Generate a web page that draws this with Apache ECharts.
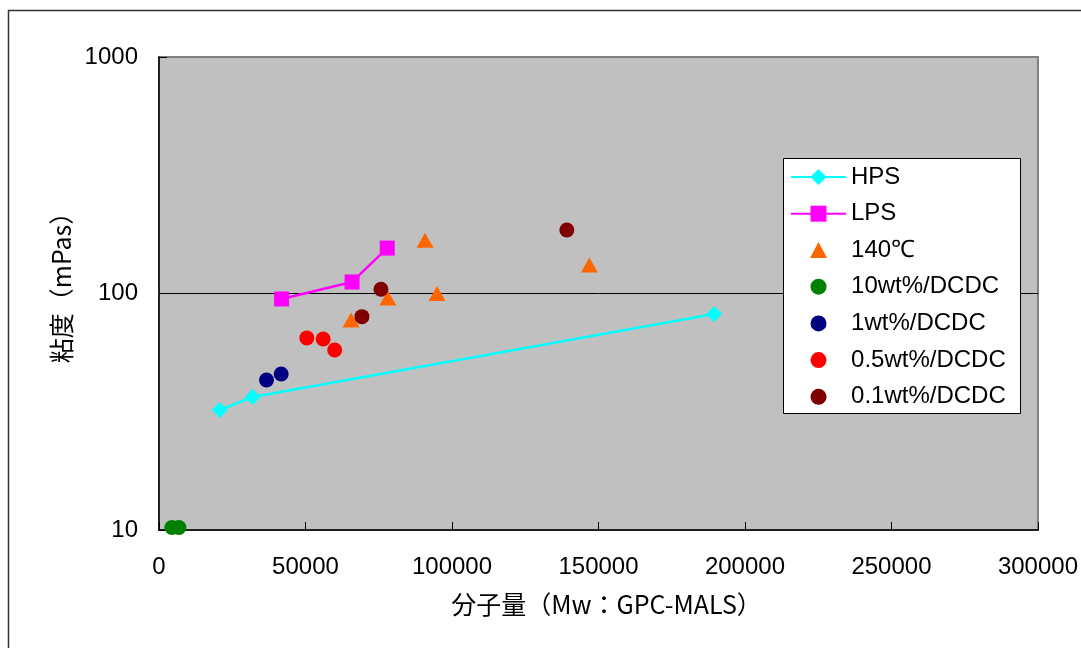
<!DOCTYPE html>
<html>
<head>
<meta charset="utf-8">
<script src="https://cdn.jsdelivr.net/npm/echarts@6/dist/echarts.min.js"></script>
<style>
  html, body { margin: 0; padding: 0; background: #fff; }
  #chart { width: 1081px; height: 648px; }
</style>
</head>
<body>
<div id="chart"></div>
<script>
// Molecular weight (Mw) vs. viscosity (mPas)
const hpsMw   = [20750, 31970, 189450];
const hpsVisc = [32.2, 36.5, 81.9];

const lpsMw   = [41840, 65900, 77900];
const lpsVisc = [94.8, 111.9, 155.6];

const t140Mw   = [65550, 78100, 90800, 94900, 146900];
const t140Visc = [77.3, 95.7, 168, 100, 131.9];

const dcdc10Mw   = [4400, 6800];
const dcdc10Visc = [10.25, 10.25];

const dcdc1Mw   = [36700, 41700];
const dcdc1Visc = [43.1, 45.7];

const dcdc05Mw   = [50450, 56020, 59970];
const dcdc05Visc = [64.9, 64.2, 57.7];

const dcdc01Mw   = [69270, 75750, 139200];
const dcdc01Visc = [79.8, 104.2, 185.5];

const seriesNames = ['HPS', 'LPS', '140℃', '10wt%/DCDC', '1wt%/DCDC', '0.5wt%/DCDC', '0.1wt%/DCDC'];
const xTitle = '分子量（Mw：GPC-MALS）';
const yTitle = '粘度（mPas）';

const pairs = (xs, ys) => xs.map((x, i) => [x, ys[i]]);

const numFont = 'Liberation Sans, Arial, sans-serif';
const cjkFont = 'Noto Sans CJK JP, sans-serif';

const chart = echarts.init(document.getElementById('chart'), null, { renderer: 'canvas' });

function scatter(name, data, symbol, size, color) {
  return {
    name, type: 'scatter', data, symbol, symbolSize: size,
    itemStyle: { color, opacity: 1 },
    emphasis: { disabled: true }
  };
}

const legendText = { fontSize: 24, lineHeight: 24, color: '#000', fontFamily: numFont };
// triangle icon that keeps its proportions in the legend
const triangleIcon = 'path://M8,0L16,15L0,15Z';

chart.setOption({
  animation: false,
  backgroundColor: '#fff',
  graphic: [
    {
      // outer chart frame
      type: 'rect',
      shape: { x: 8.5, y: 10.5, width: 1200, height: 800 },
      style: { fill: 'none', stroke: '#333', lineWidth: 1.5 },
      silent: true, z: -10
    },
    {
      // legend box
      type: 'rect',
      shape: { x: 783.5, y: 158.5, width: 237, height: 255 },
      style: { fill: '#fff', stroke: '#000', lineWidth: 1 },
      silent: true, z: 3
    }
  ],
  grid: {
    left: 159, top: 57, right: 42, bottom: 118,
    show: true, backgroundColor: '#C0C0C0',
    borderColor: '#808080', borderWidth: 2
  },
  legend: [
    {
      // line series entries
      orient: 'vertical', left: 783, top: 165, padding: [0, 0, 0, 7],
      itemWidth: 55, itemHeight: 20, itemGap: 12.7,
      textStyle: legendText,
      data: seriesNames.slice(0, 2),
      selectedMode: false, z: 5
    },
    {
      // marker-only entries
      orient: 'vertical', left: 803, top: 238, padding: [0, 0, 0, 7],
      itemWidth: 55, itemHeight: 16, itemGap: 12.7,
      symbolKeepAspect: true,
      textStyle: legendText,
      data: [
        { name: seriesNames[2], icon: triangleIcon },
        seriesNames[3], seriesNames[4], seriesNames[5], seriesNames[6]
      ],
      selectedMode: false, z: 5
    }
  ],
  xAxis: {
    type: 'value', min: 0, max: 300000, interval: 50000,
    name: xTitle, nameLocation: 'middle', nameGap: 62,
    nameTextStyle: { fontSize: 25, color: '#000', fontFamily: cjkFont, padding: [0, 0, 0, 16] },
    axisLine: { show: true, onZero: false, lineStyle: { color: '#000', width: 1.5 } },
    axisTick: { show: true, inside: true, length: 8, lineStyle: { color: '#000', width: 1 } },
    axisLabel: { fontSize: 24, color: '#000', margin: 25, fontFamily: numFont, formatter: v => String(v) },
    splitLine: { show: false }
  },
  yAxis: {
    type: 'log', logBase: 10, min: 10, max: 1000,
    name: yTitle, nameLocation: 'middle', nameGap: 84, nameRotate: 90,
    nameTextStyle: { fontSize: 25, color: '#000', fontFamily: cjkFont, padding: [0, 0, 0, 24] },
    axisLine: { show: true, onZero: false, lineStyle: { color: '#000', width: 1.5 } },
    axisTick: { show: true, inside: true, length: 8, lineStyle: { color: '#000', width: 1 } },
    minorTick: { show: false },
    axisLabel: { fontSize: 24, color: '#000', margin: 21, fontFamily: numFont, formatter: v => String(Math.round(v)) },
    splitLine: { show: true, lineStyle: { color: ['rgba(0,0,0,0)', '#000', 'rgba(0,0,0,0)'], width: 1 } }
  },
  series: [
    {
      name: seriesNames[0], type: 'line', data: pairs(hpsMw, hpsVisc),
      symbol: 'diamond', symbolSize: 16, showAllSymbol: true,
      lineStyle: { color: '#00FFFF', width: 2.5 },
      itemStyle: { color: '#00FFFF' },
      emphasis: { disabled: true }
    },
    {
      name: seriesNames[1], type: 'line', data: pairs(lpsMw, lpsVisc),
      symbol: 'rect', symbolSize: 15, showAllSymbol: true,
      lineStyle: { color: '#FF00FF', width: 2.5 },
      itemStyle: { color: '#FF00FF' },
      emphasis: { disabled: true }
    },
    scatter(seriesNames[2], pairs(t140Mw, t140Visc), 'triangle', [17, 15], '#FF6600'),
    scatter(seriesNames[3], pairs(dcdc10Mw, dcdc10Visc), 'circle', 15, '#008000'),
    scatter(seriesNames[4], pairs(dcdc1Mw, dcdc1Visc), 'circle', 15, '#000080'),
    scatter(seriesNames[5], pairs(dcdc05Mw, dcdc05Visc), 'circle', 15, '#FF0000'),
    scatter(seriesNames[6], pairs(dcdc01Mw, dcdc01Visc), 'circle', 15, '#800000')
  ]
});
</script>
</body>
</html>
